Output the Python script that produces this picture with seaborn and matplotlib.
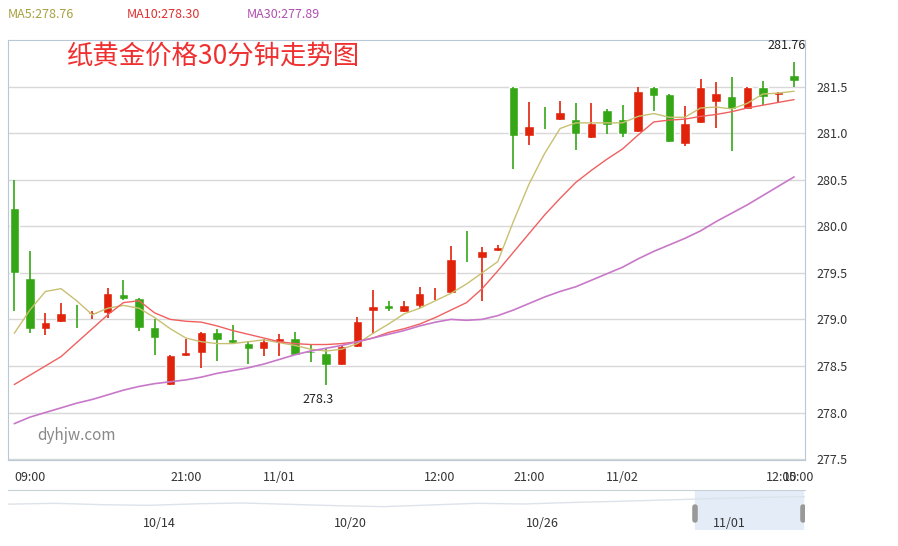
import numpy as np
import pandas as pd
import seaborn as sns
import matplotlib.pyplot as plt

sns.set_style('white')
plt.rcParams['font.family'] = ['Noto Sans CJK SC', 'DejaVu Sans']

opens = [280.20, 279.44, 278.90, 278.97, 279.07, 279.06, 279.07, 279.27, 279.23, 278.92,
         278.30, 278.61, 278.64, 278.86, 278.79, 278.75, 278.68, 278.76, 278.80, 278.66,
         278.64, 278.51, 278.70, 279.09, 279.15, 279.08, 279.14, 279.28, 279.28, 279.67,
         279.66, 279.73, 281.49, 280.97, 281.12, 281.14, 281.15, 280.95, 281.25, 281.15,
         281.01, 281.49, 281.42, 280.88, 281.11, 281.33, 281.40, 281.26, 281.49, 281.41, 281.62]
closes = [279.50, 278.90, 278.97, 279.07, 279.06, 279.08, 279.28, 279.22, 278.91, 278.80,
          278.62, 278.65, 278.86, 278.78, 278.75, 278.68, 278.77, 278.80, 278.62, 278.64,
          278.51, 278.71, 278.98, 279.14, 279.11, 279.15, 279.28, 279.29, 279.65, 279.66,
          279.73, 279.78, 280.97, 281.08, 281.11, 281.23, 280.99, 281.11, 281.09, 280.99,
          281.45, 281.40, 280.91, 281.11, 281.49, 281.43, 281.26, 281.49, 281.39, 281.44, 281.56]
highs = [280.50, 279.73, 279.07, 279.18, 279.15, 279.09, 279.34, 279.42, 279.23, 279.00,
         278.62, 278.79, 278.86, 278.90, 278.94, 278.77, 278.79, 278.84, 278.86, 278.74,
         278.69, 278.71, 279.03, 279.32, 279.20, 279.20, 279.35, 279.34, 279.79, 279.95,
         279.78, 279.80, 281.49, 281.33, 281.28, 281.34, 281.32, 281.32, 281.26, 281.30,
         281.49, 281.49, 281.42, 281.29, 281.58, 281.55, 281.60, 281.49, 281.56, 281.44, 281.76]
lows = [279.09, 278.85, 278.83, 278.97, 278.91, 279.00, 279.02, 279.21, 278.88, 278.62,
        278.30, 278.61, 278.48, 278.55, 278.75, 278.52, 278.61, 278.61, 278.62, 278.54,
        278.30, 278.51, 278.70, 278.84, 279.09, 279.08, 279.12, 279.21, 279.28, 279.62,
        279.20, 279.73, 280.62, 280.87, 281.04, 281.14, 280.82, 280.95, 280.99, 280.96,
        281.01, 281.24, 280.91, 280.86, 281.11, 281.05, 280.81, 281.26, 281.30, 281.32, 281.49]
ma5 = [278.85, 279.10, 279.30, 279.33, 279.20, 279.05, 279.12, 279.15, 279.12, 279.02,
       278.90, 278.80, 278.76, 278.74, 278.74, 278.76, 278.78, 278.75, 278.72, 278.68,
       278.66, 278.68, 278.74, 278.85, 278.95, 279.06, 279.12, 279.20, 279.28, 279.38,
       279.50, 279.62, 280.05, 280.45, 280.78, 281.05, 281.11, 281.11, 281.11, 281.11,
       281.18, 281.21, 281.17, 281.17, 281.27, 281.28, 281.26, 281.32, 281.42, 281.43, 281.45]
ma10 = [278.30, 278.40, 278.50, 278.60, 278.75, 278.90, 279.05, 279.18, 279.20, 279.07,
        279.00, 278.98, 278.97, 278.93, 278.88, 278.84, 278.80, 278.76, 278.74, 278.73,
        278.73, 278.74, 278.76, 278.80, 278.86, 278.90, 278.95, 279.02, 279.10, 279.18,
        279.33, 279.52, 279.72, 279.92, 280.12, 280.30, 280.47, 280.60, 280.72, 280.83,
        280.98, 281.12, 281.14, 281.15, 281.18, 281.20, 281.23, 281.27, 281.30, 281.33, 281.36]
ma30 = [277.88, 277.95, 278.00, 278.05, 278.10, 278.14, 278.19, 278.24, 278.28, 278.31,
        278.33, 278.35, 278.38, 278.42, 278.45, 278.48, 278.52, 278.57, 278.62, 278.66,
        278.69, 278.72, 278.76, 278.80, 278.84, 278.88, 278.93, 278.97, 279.00, 278.99,
        279.00, 279.04, 279.10, 279.17, 279.24, 279.30, 279.35, 279.42, 279.49, 279.56,
        279.65, 279.73, 279.80, 279.87, 279.95, 280.05, 280.14, 280.23, 280.33, 280.43, 280.53]
tick_pos = [1, 11, 17, 27.3, 33, 39, 49.2, 50.3]
tick_labels = ['09:00', '21:00', '11/01', '12:00', '21:00', '11/02', '12:00', '15:00']
nav_vals = [0.45, 0.5, 0.42, 0.38, 0.47, 0.52, 0.44, 0.36, 0.3, 0.4, 0.5, 0.46, 0.55, 0.62, 0.7, 0.78, 0.85, 0.9]
nav_labels = ['10/14', '10/20', '10/26', '11/01']

red, green = '#e0230a', '#35a716'
df = pd.DataFrame({'i': np.arange(len(opens)), 'ma5': ma5, 'ma10': ma10, 'ma30': ma30})

fig = plt.figure(figsize=(8.98, 5.46), dpi=100)
ax = fig.add_axes([8 / 898, 86 / 546, 797 / 898, 420 / 546])
for sp in ax.spines.values():
    sp.set_color('#b8c8d8')
ax.set_yticks(np.arange(277.5, 282.0, 0.5))
ax.grid(axis='y', color='#d8d8d8', lw=1)
ax.set_axisbelow(True)

for i in range(len(opens)):
    up = closes[i] >= opens[i]
    c = red if up else green
    ax.vlines(i, lows[i], highs[i], color=c, lw=1.2)
    h = max(abs(closes[i] - opens[i]), 0.012)
    ax.bar(i, h, bottom=min(opens[i], closes[i]), width=0.6, color=c)

sns.lineplot(data=df, x='i', y='ma5', ax=ax, color='#c8c070', lw=1)
sns.lineplot(data=df, x='i', y='ma10', ax=ax, color='#f06060', lw=1)
sns.lineplot(data=df, x='i', y='ma30', ax=ax, color='#c878c8', lw=1.2)

ax.set_xlim(-0.4, 50.7)
ax.set_ylim(277.49, 282.0)
ax.set_xlabel('')
ax.set_ylabel('')
ax.yaxis.tick_right()
ax.tick_params(axis='y', labelsize=9, colors='#333333', length=0, pad=8)
ax.set_xticks(tick_pos)
ax.set_xticklabels(tick_labels, fontsize=9, color='#333333')
ax.tick_params(axis='x', length=4, color='#b8c8d8', pad=4)

ax.text(3.4, 281.83, '纸黄金价格30分钟走势图', color='#f03030', fontsize=19, va='center')
ax.text(1.5, 277.75, 'dyhjw.com', color='#888888', fontsize=11, va='center')
ax.text(49.5, 281.9, '281.76', fontsize=9, ha='center', color='#222222')
ax.text(19.5, 278.1, '278.3', fontsize=9, ha='center', color='#222222')

fig.text(8 / 898, 1 - 15 / 546, 'MA5:278.76', color='#a8a040', fontsize=9, va='center')
fig.text(127 / 898, 1 - 15 / 546, 'MA10:278.30', color='#e03030', fontsize=9, va='center')
fig.text(247 / 898, 1 - 15 / 546, 'MA30:277.89', color='#b050b0', fontsize=9, va='center')

nav = fig.add_axes([8 / 898, 16 / 546, 797 / 898, 40 / 546])
nx = np.linspace(0, 1, len(nav_vals))
nav.axvspan(0.862, 0.998, color='#e3ecf7', zorder=0)
nav.plot(nx, np.array(nav_vals) * 0.5 + 0.55, color='#dde3ea', lw=1, zorder=1)
nav.plot([0.862, 0.862], [0.3, 0.7], color='#999999', lw=4, zorder=2)
nav.plot([0.998, 0.998], [0.3, 0.7], color='#999999', lw=4, zorder=2)
nav.set_xlim(0, 1)
nav.set_ylim(0, 1.2)
for xp, lab in zip([0.19, 0.43, 0.67, 0.905], nav_labels):
    nav.text(xp, 0.2, lab, fontsize=9, color='#333333', ha='center', va='center', zorder=3)
nav.set_xticks([])
nav.set_yticks([])
for sp in nav.spines.values():
    sp.set_visible(False)
nav.spines['top'].set_visible(True)
nav.spines['top'].set_color('#c8d0d8')

fig.savefig('out.png', dpi=100)
